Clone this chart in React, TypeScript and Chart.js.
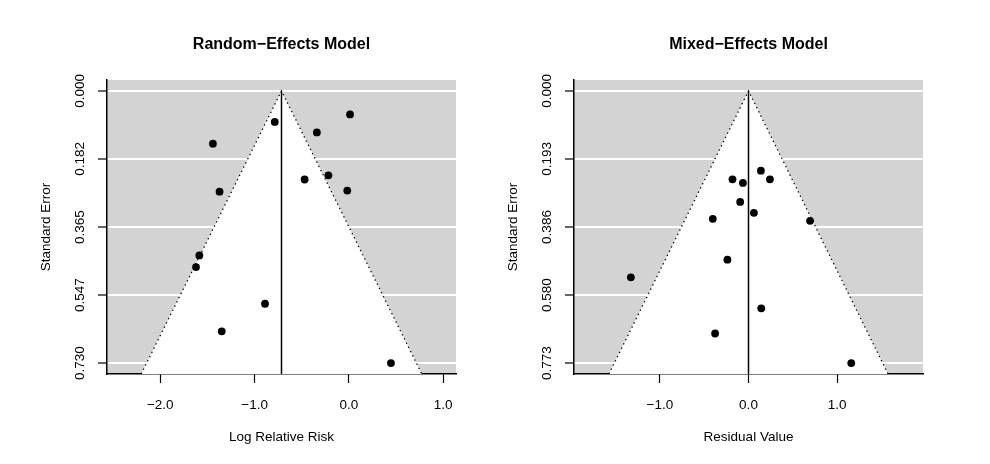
import React, { useEffect, useRef } from 'react';
import { Chart, registerables } from 'chart.js';

Chart.register(...registerables);

// ---- Random-Effects Model panel data ----
const reLogRelativeRisk = [-0.8893, -1.5854, -1.3481, -1.4416, -0.2175, -0.7861, -1.6209, 0.012, -0.4694, -1.3713, -0.3394, 0.4459, -0.0173];
const reStandardError = [0.5706, 0.4411, 0.6445, 0.1414, 0.2263, 0.0831, 0.4722, 0.0632, 0.2375, 0.2702, 0.1114, 0.7297, 0.2672];
const reEstimate = -0.7145;
const reYTicks = [0, 0.1824, 0.3649, 0.5473, 0.7297];
const reYTickLabels = ['0.000', '0.182', '0.365', '0.547', '0.730'];
const reXTicks = [-2, -1, 0, 1];
const reXTickLabels = ['\u22122.0', '\u22121.0', '0.0', '1.0'];

// ---- Mixed-Effects Model panel data ----
const meResidual = [-1.328, 0.14, -0.181, -0.063, 0.242, -0.094, 0.061, -0.403, 0.695, -0.238, 0.144, -0.377, 1.16];
const meStandardError = [0.5295, 0.2265, 0.2512, 0.2614, 0.2512, 0.3152, 0.3463, 0.3633, 0.369, 0.4794, 0.6173, 0.6889, 0.773];
const meEstimate = 0;
const meYTicks = [0, 0.19325, 0.3865, 0.57975, 0.773];
const meYTickLabels = ['0.000', '0.193', '0.386', '0.580', '0.773'];
const meXTicks = [-1, 0, 1];
const meXTickLabels = ['\u22121.0', '0.0', '1.0'];

const FONT = '"Liberation Sans", Arial, Helvetica, sans-serif';

type Panel = {
  title: string;
  xTitle: string;
  xs: number[];
  ys: number[];
  center: number;
  yTicks: number[];
  yTickLabels: string[];
  xTicks: number[];
  xTickLabels: string[];
  xHalf: number;
  yAxisWidth: number;
  padRight: number;
};

function buildChart(canvas: HTMLCanvasElement, p: Panel) {
  const yMax = p.yTicks[p.yTicks.length - 1];
  const yTop = -0.04 * yMax;
  const yBot = 1.04 * yMax;
  const z = 1.96;
  const lb = p.center - z * yBot;
  const ub = p.center + z * yBot;
  const funnel = [
    { x: lb, y: yBot },
    { x: p.center, y: 0 },
    { x: ub, y: yBot },
  ];

  const textPlugin = {
    id: 'rtext',
    beforeDraw(chart: any) {
      const { ctx, chartArea: a } = chart;
      ctx.save();
      ctx.fillStyle = '#d3d3d3';
      ctx.fillRect(a.left, a.top, a.right - a.left, a.bottom - a.top);
      ctx.restore();
    },
    afterDraw(chart: any) {
      const { ctx, chartArea: a, scales } = chart;
      const xs = scales.x;
      const ys = scales.y;
      ctx.save();
      ctx.fillStyle = '#000';
      // title
      ctx.font = `bold 16px ${FONT}`;
      ctx.textAlign = 'center';
      ctx.textBaseline = 'middle';
      ctx.fillText(p.title, (a.left + a.right) / 2, a.top - 35);
      // x tick labels
      ctx.font = `13.5px ${FONT}`;
      p.xTicks.forEach((v, i) => {
        ctx.fillText(p.xTickLabels[i], xs.getPixelForValue(v), a.bottom + 31);
      });
      // x title
      ctx.fillText(p.xTitle, (a.left + a.right) / 2, a.bottom + 63);
      // y tick labels (rotated)
      p.yTicks.forEach((v, i) => {
        ctx.save();
        ctx.translate(a.left - 27, ys.getPixelForValue(v));
        ctx.rotate(-Math.PI / 2);
        ctx.fillText(p.yTickLabels[i], 0, 0);
        ctx.restore();
      });
      // y title
      ctx.save();
      ctx.translate(a.left - 61, (a.top + a.bottom) / 2);
      ctx.rotate(-Math.PI / 2);
      ctx.fillText('Standard Error', 0, 0);
      ctx.restore();
      ctx.restore();
    },
  };

  return new Chart(canvas, {
    type: 'line',
    data: {
      datasets: [
        {
          // study points (drawn on top)
          data: p.xs.map((x, i) => ({ x, y: p.ys[i] })),
          showLine: false,
          pointRadius: 3.9,
          pointBackgroundColor: '#000',
          pointBorderWidth: 0,
          backgroundColor: '#000',
          order: 0,
        },
        {
          // estimate line
          data: [
            { x: p.center, y: 0 },
            { x: p.center, y: yBot },
          ],
          fill: false,
          borderColor: '#000',
          borderWidth: 1.5,
          pointRadius: 0,
          order: 1,
        },
        {
          // dotted funnel edges
          data: funnel,
          fill: false,
          borderColor: '#000',
          borderWidth: 1.3,
          borderDash: [1.3, 3.4],
          pointRadius: 0,
          order: 2,
        },
        {
          // white funnel region
          data: funnel,
          fill: 'shape',
          backgroundColor: '#ffffff',
          borderWidth: 0,
          borderColor: 'rgba(0,0,0,0)',
          pointRadius: 0,
          order: 3,
        },
      ] as any,
    },
    options: {
      animation: false,
      responsive: false,
      maintainAspectRatio: false,
      events: [],
      layout: { padding: { left: 0, right: p.padRight, top: 80, bottom: 0 } },
      plugins: { legend: { display: false }, tooltip: { enabled: false }, title: { display: false } },
      scales: {
        x: {
          type: 'linear',
          min: p.center - p.xHalf,
          max: p.center + p.xHalf,
          z: 1,
          afterBuildTicks: (s: any) => {
            s.ticks = p.xTicks.map((v) => ({ value: v }));
          },
          afterFit: (s: any) => {
            s.height = 90;
          },
          ticks: { display: false },
          grid: { drawOnChartArea: false, drawTicks: true, tickLength: 9, tickColor: '#000', tickWidth: 1.2 },
          border: { display: true, color: '#000', width: 1.5 },
        },
        y: {
          type: 'linear',
          reverse: true,
          min: yTop,
          max: yBot,
          afterBuildTicks: (s: any) => {
            s.ticks = p.yTicks.map((v) => ({ value: v }));
          },
          afterFit: (s: any) => {
            s.width = p.yAxisWidth;
          },
          ticks: { display: false },
          grid: { drawOnChartArea: true, color: '#ffffff', lineWidth: 2, drawTicks: true, tickLength: 9, tickColor: '#000', tickWidth: 1.2 },
          border: { display: true, color: '#000', width: 1.5 },
        },
      },
    } as any,
    plugins: [textPlugin],
  });
}

function FunnelPanel({ panel, left }: { panel: Panel; left: number }) {
  const ref = useRef<HTMLCanvasElement>(null);
  useEffect(() => {
    const chart = buildChart(ref.current as HTMLCanvasElement, panel);
    return () => chart.destroy();
  }, [panel]);
  return (
    <canvas
      ref={ref}
      width={495}
      height={464}
      style={{ position: 'absolute', left, top: 0, width: 495, height: 464 }}
    />
  );
}

const rePanel: Panel = {
  title: 'Random\u2212Effects Model',
  xTitle: 'Log Relative Risk',
  xs: reLogRelativeRisk,
  ys: reStandardError,
  center: reEstimate,
  yTicks: reYTicks,
  yTickLabels: reYTickLabels,
  xTicks: reXTicks,
  xTickLabels: reXTickLabels,
  xHalf: 1.85,
  yAxisWidth: 107,
  padRight: 39,
};

const mePanel: Panel = {
  title: 'Mixed\u2212Effects Model',
  xTitle: 'Residual Value',
  xs: meResidual,
  ys: meStandardError,
  center: meEstimate,
  yTicks: meYTicks,
  yTickLabels: meYTickLabels,
  xTicks: meXTicks,
  xTickLabels: meXTickLabels,
  xHalf: 1.97,
  yAxisWidth: 79,
  padRight: 67,
};

export default function App() {
  return (
    <div style={{ position: 'fixed', left: 0, top: 0, width: 990, height: 464, background: '#fff', overflow: 'hidden' }}>
      <FunnelPanel panel={rePanel} left={0} />
      <FunnelPanel panel={mePanel} left={495} />
    </div>
  );
}
